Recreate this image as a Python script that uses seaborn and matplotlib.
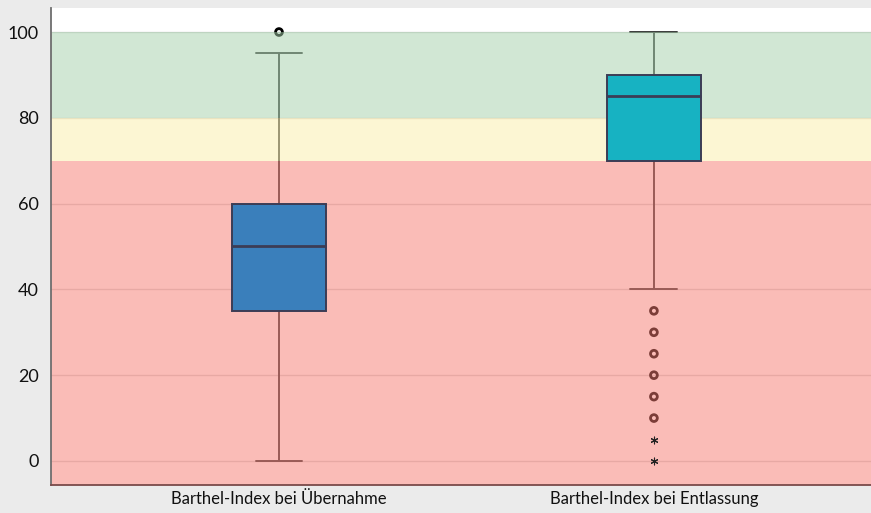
import numpy as np
import pandas as pd
import matplotlib.pyplot as plt
import seaborn as sns

# -------------------------------
# Data (Barthel-Index values)
# -------------------------------
labels = ["Barthel-Index bei Übernahme", "Barthel-Index bei Entlassung"]

admission = [0, 20, 35, 35, 40, 50, 50, 55, 60, 60, 75, 95, 100]

discharge = [0, 5, 10, 15, 20, 25, 30, 35, 40, 55,
             70, 70, 75, 75, 80, 80, 80, 85, 85, 85,
             85, 85, 85, 90, 90, 90, 90, 90, 90, 90,
             90, 90, 95, 95, 95, 100, 100, 100, 100, 100,
             100]

box_colors = ["#3a7fbb", "#17b2c2"]

# score bands (green / yellow / red)
band_limits = [(80, 100), (70, 80), (-10, 70)]
band_colors = ["#a5d1ab", "#fbefa9", "#f77b71"]

df = pd.DataFrame({
    "group": [labels[0]] * len(admission) + [labels[1]] * len(discharge),
    "value": admission + discharge,
})

# -------------------------------
# Figure
# -------------------------------
sns.set_style("white")
plt.rcParams["font.family"] = ["Lato", "DejaVu Sans"]

fig = plt.figure(figsize=(8.71, 5.13), dpi=100, facecolor="#ebebeb")
ax = fig.add_axes([0.0586, 0.0546, 0.9414, 0.9298])
ax.set_facecolor("white")

sns.boxplot(
    data=df, x="group", y="value", hue="group", order=labels,
    palette=box_colors, saturation=1, legend=False, width=0.25,
    showfliers=False, linecolor="#3c3c55", linewidth=1.4,
    boxprops={"zorder": 3},
    medianprops={"zorder": 3.1, "linewidth": 2},
    whiskerprops={"zorder": 1, "color": "#3a3a3a"},
    capprops={"zorder": 1, "color": "#3a3a3a"},
    ax=ax,
)

# outliers (circles) and extremes (asterisks)
for i, vals in enumerate([admission, discharge]):
    v = np.array(vals)
    q1, q3 = np.percentile(v, [25, 75])
    iqr = q3 - q1
    out = np.unique(v[((v < q1 - 1.5 * iqr) | (v > q3 + 1.5 * iqr))
                      & (v >= q1 - 3 * iqr) & (v <= q3 + 3 * iqr)])
    ext = np.unique(v[(v < q1 - 3 * iqr) | (v > q3 + 3 * iqr)])
    ax.scatter([i] * len(out), out, s=24, facecolors="none",
               edgecolors="#000000", linewidths=2, zorder=1)
    ax.scatter([i] * len(ext), ext, s=24, marker=(6, 2, 0),
               color="#222222", linewidths=0.8, zorder=4)

# coloured bands laid over the whiskers
for (lo, hi), c in zip(band_limits, band_colors):
    ax.axhspan(lo, hi, color=c, alpha=0.5, lw=0, zorder=2)

ax.set_xlim(-0.608, 1.579)
ax.set_ylim(-5.6, 105.6)
ax.set_yticks([0, 20, 40, 60, 80, 100])
ax.set_xlabel("")
ax.set_ylabel("")

ax.set_axisbelow(True)
ax.yaxis.grid(True, color="#d8d8d8", linewidth=1)

ax.tick_params(axis="both", length=0, colors="#111111")
ax.tick_params(axis="y", pad=9, labelsize=13)
ax.tick_params(axis="x", pad=4, labelsize=12)

sns.despine(ax=ax, top=True, right=True)
ax.spines["left"].set_color("#6e6e6e")
ax.spines["bottom"].set_color("#7a4a4a")
ax.spines["left"].set_linewidth(1.3)
ax.spines["bottom"].set_linewidth(1.3)

plt.savefig("out.png", dpi=100, facecolor=fig.get_facecolor())
